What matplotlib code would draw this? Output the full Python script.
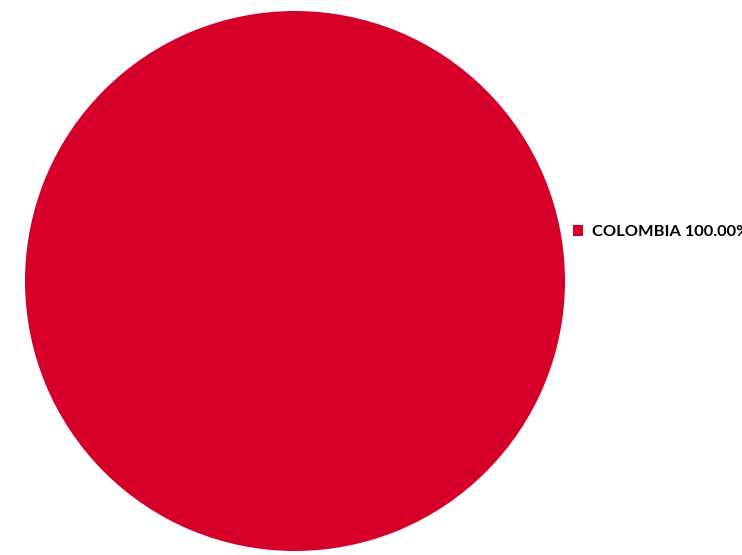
import matplotlib
matplotlib.use("Agg")
import matplotlib.pyplot as plt
from matplotlib.patches import Patch

labels = ["COLOMBIA"]
values = [100.0]
colors = ["#D40029"]

W, H = 742, 555
fig = plt.figure(figsize=(W / 100, H / 100), dpi=100)

# pie centred at (295, 281) px, radius 270 px
cx, cy, r = 295, 281, 270
ax = fig.add_axes([(cx - r) / W, (H - cy - r) / H, 2 * r / W, 2 * r / H])
ax.pie(values, colors=colors, startangle=90, counterclock=False, radius=1.0)
ax.set_xlim(-1, 1)
ax.set_ylim(-1, 1)
ax.set_aspect("equal")
ax.axis("off")

total = sum(values)
leg_labels = [f"{l} {v / total * 100:.2f}%" for l, v in zip(labels, values)]
handles = [Patch(facecolor=c, edgecolor="none") for c in colors]
# the legend runs past the right edge, as in the reference
leg = fig.legend(handles, leg_labels, loc="center left",
                 bbox_to_anchor=(573 / W, 1 - 232 / H), frameon=False,
                 handlelength=0.64, handleheight=0.64, handletextpad=0.5,
                 borderaxespad=0, borderpad=0,
                 prop={"family": ["Lato", "DejaVu Sans"], "weight": "bold", "size": 11.8})

fig.savefig("out.png", dpi=100)
